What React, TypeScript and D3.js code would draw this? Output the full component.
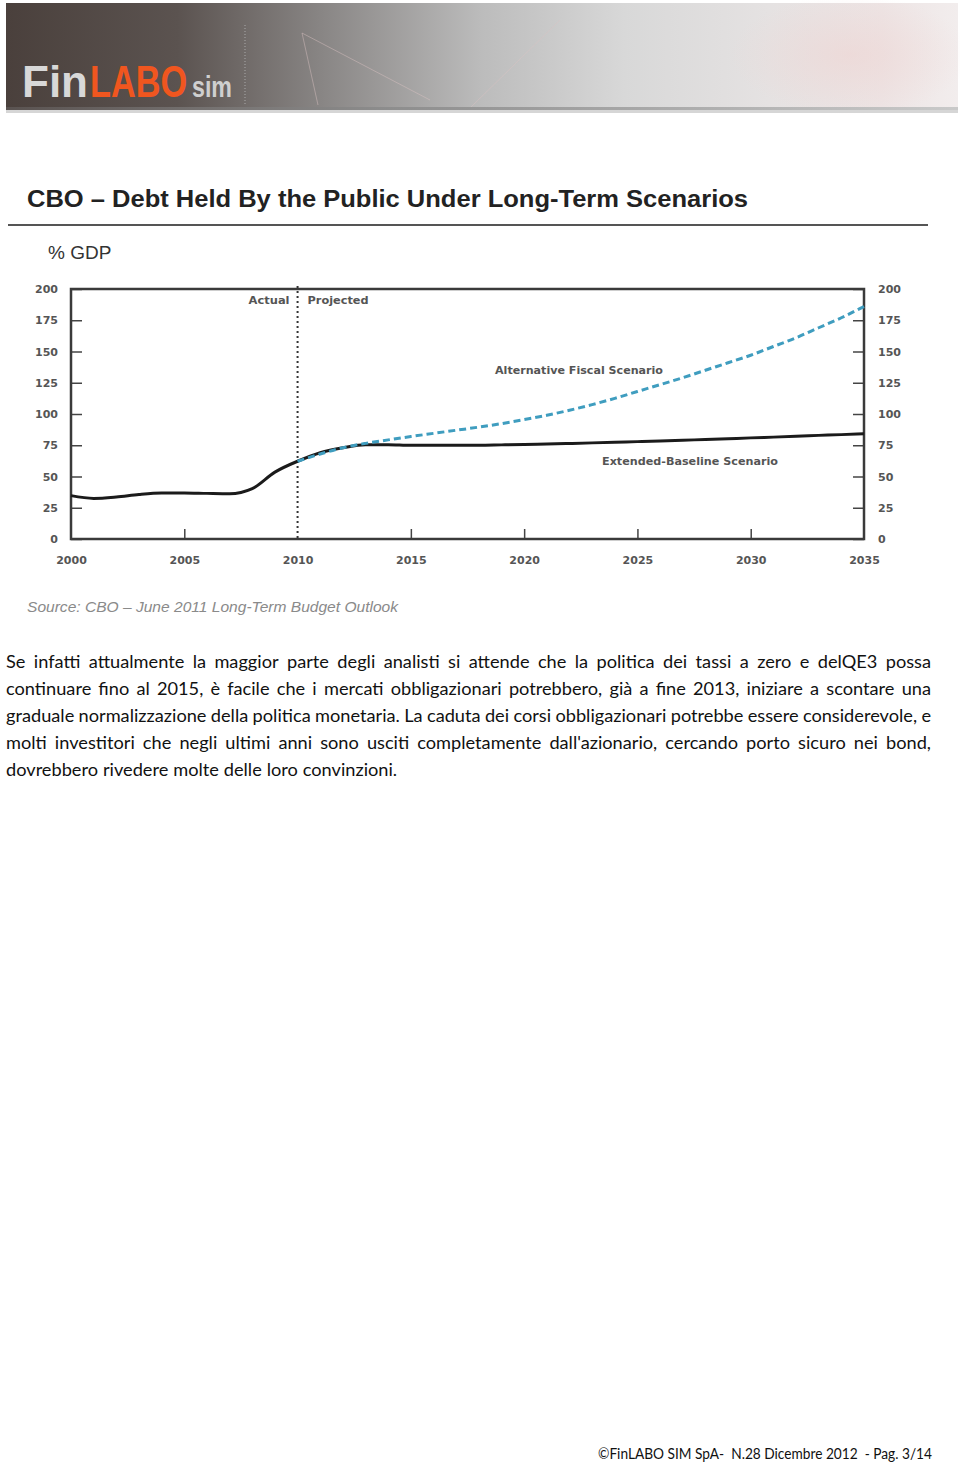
import React, { useEffect, useRef } from 'react';
import * as d3 from 'd3';

// values (% of GDP)
const actualYears = [2000, 2001, 2002, 2003, 2004, 2005, 2006, 2007, 2008, 2009, 2010];
const actualDebt = [34.7, 32.5, 33.6, 35.6, 36.8, 36.9, 36.5, 36.2, 40.3, 53.5, 62.2];

const projYears = [2010, 2011, 2012, 2013, 2014, 2015, 2016, 2017, 2018, 2019, 2020, 2021, 2022,
  2023, 2024, 2025, 2026, 2027, 2028, 2029, 2030, 2031, 2032, 2033, 2034, 2035];
const baselineDebt = [62.2, 69, 73, 75.5, 75.5, 75, 75, 75, 75, 75.3, 75.6, 76, 76.4,
  76.9, 77.4, 77.9, 78.4, 79, 79.6, 80.2, 80.9, 81.5, 82.2, 82.9, 83.5, 84.2];
const altDebt = [62.2, 68, 73, 76.5, 79.3, 82, 84.5, 87, 89.5, 92.3, 95.5, 99, 103,
  107.5, 112.5, 118, 123.5, 129, 135, 141, 147, 154, 161, 169, 177, 186];

const yTicks = [0, 25, 50, 75, 100, 125, 150, 175, 200];
const xTicks = [2000, 2005, 2010, 2015, 2020, 2025, 2030, 2035];

const bodyLines = [
  "Se infatti attualmente la maggior parte degli analisti si attende che la politica dei tassi a zero e delQE3 possa",
  "continuare fino al 2015, è facile che i mercati obbligazionari potrebbero, già a fine 2013, iniziare a scontare una",
  "graduale normalizzazione della politica monetaria. La caduta dei corsi obbligazionari potrebbe essere considerevole, e",
  "molti investitori che negli ultimi anni sono usciti completamente dall'azionario, cercando porto sicuro nei bond,",
  "dovrebbero rivedere molte delle loro convinzioni.",
];

const W = 960;
const H = 1462;

export default function App() {
  const ref = useRef<SVGSVGElement | null>(null);

  useEffect(() => {
    const svg = d3.select(ref.current);
    svg.selectAll('*').remove();
    svg.attr('width', W).attr('height', H);

    svg.append('rect').attr('width', W).attr('height', H).attr('fill', '#fff');

    // ---- header banner
    const defs = svg.append('defs');
    const bg = defs.append('linearGradient').attr('id', 'hdr').attr('x1', 0).attr('x2', 1).attr('y1', 0).attr('y2', 0);
    [['0%', '#4a403c'], ['18%', '#5b5350'], ['33%', '#888584'], ['50%', '#bcbcbc'], ['65%', '#d8d8d8'],
      ['80%', '#e5e2e2'], ['92%', '#ede4e4'], ['100%', '#f2eded']]
      .forEach(([o, c]) => bg.append('stop').attr('offset', o).attr('stop-color', c));
    const band = defs.append('linearGradient').attr('id', 'band').attr('x1', 0).attr('x2', 1);
    [['0%', '#5a5351'], ['40%', '#8d8d8d'], ['100%', '#c9c9c9']]
      .forEach(([o, c]) => band.append('stop').attr('offset', o).attr('stop-color', c));
    const pink = defs.append('radialGradient').attr('id', 'pink');
    pink.append('stop').attr('offset', '0%').attr('stop-color', '#eed3d1').attr('stop-opacity', 0.55);
    pink.append('stop').attr('offset', '100%').attr('stop-color', '#eed3d1').attr('stop-opacity', 0);

    svg.append('rect').attr('x', 6).attr('y', 3).attr('width', 952).attr('height', 106).attr('fill', 'url(#hdr)');
    svg.append('ellipse').attr('cx', 850).attr('cy', 55).attr('rx', 120).attr('ry', 60).attr('fill', 'url(#pink)');
    svg.append('path').attr('d', 'M302,33 L430,100 M302,33 L318,105 M560,20 L470,108')
      .attr('stroke', '#dcc4c3').attr('stroke-width', 1).attr('fill', 'none').attr('opacity', 0.45);
    svg.append('rect').attr('x', 6).attr('y', 107).attr('width', 952).attr('height', 3).attr('fill', 'url(#band)');
    svg.append('rect').attr('x', 6).attr('y', 110).attr('width', 952).attr('height', 3).attr('fill', '#d6d6d6');
    svg.append('line').attr('x1', 245).attr('x2', 245).attr('y1', 25).attr('y2', 105)
      .attr('stroke', '#aaa').attr('stroke-dasharray', '1,2');

    // logo: condensed by scaling rather than textLength so the boxes stay honest
    const logo = svg.append('g').attr('font-family', '"Liberation Sans", Arial, sans-serif')
      .attr('font-weight', 'bold');
    logo.append('text').attr('transform', 'translate(22,97)').attr('font-size', 44).attr('fill', '#d8d8d8')
      .text('Fin');
    logo.append('text').attr('transform', 'translate(90,97) scale(0.78,1)').attr('font-size', 44)
      .attr('fill', '#f0561f').text('LABO');
    logo.append('text').attr('transform', 'translate(192,97) scale(0.8,1)').attr('font-size', 29)
      .attr('fill', '#cfcfcf').text('sim');

    // ---- chart title
    svg.append('text').attr('x', 27).attr('y', 207)
      .attr('font-family', '"Liberation Sans", Arial, sans-serif').attr('font-weight', 'bold')
      .attr('font-size', 23).attr('fill', '#222')
      .attr('textLength', 721).attr('lengthAdjust', 'spacingAndGlyphs')
      .text('CBO – Debt Held By the Public Under Long-Term Scenarios');
    svg.append('line').attr('x1', 8).attr('x2', 928).attr('y1', 225).attr('y2', 225)
      .attr('stroke', '#555').attr('stroke-width', 2);
    svg.append('text').attr('x', 48).attr('y', 259)
      .attr('font-family', '"Liberation Sans", Arial, sans-serif').attr('font-size', 19).attr('fill', '#333')
      .text('% GDP');

    // ---- plot
    const left = 71, right = 864, top = 289, bottom = 539;
    const x = d3.scaleLinear().domain([2000, 2035]).range([left, right]);
    const y = d3.scaleLinear().domain([0, 200]).range([bottom, top]);

    const tickFont = (g: any) => g.selectAll('text')
      .attr('font-family', '"DejaVu Sans", sans-serif').attr('font-weight', 'bold')
      .attr('font-size', 11).attr('fill', '#555');

    svg.append('g').attr('transform', `translate(${left},0)`)
      .call(d3.axisLeft(y).tickValues(yTicks).tickSizeInner(-11).tickSizeOuter(0).tickPadding(13))
      .call((g: any) => g.select('.domain').remove())
      .call((g: any) => g.selectAll('line').attr('stroke', '#444').attr('stroke-width', 1.5))
      .call(tickFont);

    svg.append('g').attr('transform', `translate(${right},0)`)
      .call(d3.axisRight(y).tickValues(yTicks).tickSizeInner(-11).tickSizeOuter(0).tickPadding(14))
      .call((g: any) => g.select('.domain').remove())
      .call((g: any) => g.selectAll('line').attr('stroke', '#444').attr('stroke-width', 1.5))
      .call(tickFont);

    svg.append('g').attr('transform', `translate(0,${bottom})`)
      .call(d3.axisBottom(x).tickValues(xTicks).tickSizeInner(-10).tickSizeOuter(0).tickPadding(17)
        .tickFormat(d3.format('d')))
      .call((g: any) => g.select('.domain').remove())
      .call((g: any) => g.selectAll('line').attr('stroke', '#444').attr('stroke-width', 1.5))
      .call((g: any) => g.selectAll('.tick').filter((d: number) => d === 2000 || d === 2010 || d === 2035)
        .select('line').remove())
      .call(tickFont);

    // frame
    svg.append('rect').attr('x', left).attr('y', top).attr('width', right - left).attr('height', bottom - top)
      .attr('fill', 'none').attr('stroke', '#3a3a3a').attr('stroke-width', 2.5);

    // actual / projected divider
    svg.append('line').attr('x1', x(2010)).attr('x2', x(2010)).attr('y1', top - 3).attr('y2', bottom)
      .attr('stroke', '#333').attr('stroke-width', 2).attr('stroke-dasharray', '2,3');

    const lbl = svg.append('g').attr('font-family', '"DejaVu Sans", sans-serif').attr('font-weight', 'bold')
      .attr('font-size', 11).attr('fill', '#555');
    lbl.append('text').attr('x', x(2010) - 8).attr('y', 304).attr('text-anchor', 'end')
      .attr('textLength', 41).attr('lengthAdjust', 'spacingAndGlyphs').text('Actual');
    lbl.append('text').attr('x', x(2010) + 10).attr('y', 304)
      .attr('textLength', 61).attr('lengthAdjust', 'spacingAndGlyphs').text('Projected');
    lbl.append('text').attr('x', 495).attr('y', 374)
      .attr('textLength', 168).attr('lengthAdjust', 'spacingAndGlyphs').text('Alternative Fiscal Scenario');
    lbl.append('text').attr('x', 602).attr('y', 465)
      .attr('textLength', 176).attr('lengthAdjust', 'spacingAndGlyphs').text('Extended-Baseline Scenario');

    const line = d3.line<[number, number]>().x(d => x(d[0])).y(d => y(d[1])).curve(d3.curveMonotoneX);

    svg.append('path').datum(d3.zip(actualYears, actualDebt) as [number, number][])
      .attr('d', line).attr('fill', 'none').attr('stroke', '#1b1b1b').attr('stroke-width', 3);
    svg.append('path').datum(d3.zip(projYears, baselineDebt) as [number, number][])
      .attr('d', line).attr('fill', 'none').attr('stroke', '#1b1b1b').attr('stroke-width', 3);
    svg.append('path').datum(d3.zip(projYears, altDebt) as [number, number][])
      .attr('d', line).attr('fill', 'none').attr('stroke', '#3f9dbf').attr('stroke-width', 3)
      .attr('stroke-dasharray', '7,4');

    svg.append('text').attr('x', 27).attr('y', 612)
      .attr('font-family', '"Liberation Sans", Arial, sans-serif').attr('font-style', 'italic')
      .attr('font-size', 14).attr('fill', '#8a8a8a')
      .attr('textLength', 371).attr('lengthAdjust', 'spacingAndGlyphs')
      .text('Source:  CBO – June 2011 Long-Term Budget Outlook');

    // ---- body text, justified; font size chosen so the widest line fits with ~4px gaps
    const textLeft = 6, textRight = 931;
    const avail = textRight - textLeft;
    const body = svg.append('g').attr('font-family', 'Lato, "Open Sans", sans-serif')
      .attr('font-size', 16).attr('fill', '#111');
    const probe = body.append('text');
    let factor = 1.2;
    bodyLines.slice(0, -1).forEach(ln => {
      const words = ln.split(' ');
      const tot = d3.sum(words, w => {
        probe.text(w);
        return (probe.node() as SVGTextElement).getComputedTextLength();
      });
      factor = Math.min(factor, (avail - (words.length - 1) * 4.3) / tot);
    });
    probe.remove();
    const fs = 16 * factor;
    body.attr('font-size', fs);

    bodyLines.forEach((ln, i) => {
      const words = ln.split(' ');
      const t = body.append('text').attr('y', 668 + i * 27);
      const spans = words.map(w => t.append('tspan').text(w));
      const widths = spans.map(s => (s.node() as SVGTSpanElement).getComputedTextLength());
      const total = d3.sum(widths);
      const last = i === bodyLines.length - 1;
      const gap = last ? fs * 0.27 : (avail - total) / (words.length - 1);
      let cx = textLeft;
      spans.forEach((s, j) => { s.attr('x', cx); cx += widths[j] + gap; });
    });

    // ---- footer
    svg.append('text').attr('x', 932).attr('y', 1459).attr('text-anchor', 'end')
      .attr('font-family', 'Lato, "Open Sans", sans-serif').attr('font-size', 14.5).attr('fill', '#111')
      .attr('xml:space', 'preserve').style('white-space', 'pre')
      .attr('textLength', 334).attr('lengthAdjust', 'spacingAndGlyphs')
      .text('©FinLABO SIM SpA-  N.28 Dicembre 2012  - Pag. 3/14');
  }, []);

  return (
    <div style={{ position: 'absolute', left: 0, top: 0 }}>
      <svg ref={ref} style={{ display: 'block' }}></svg>
    </div>
  );
}
